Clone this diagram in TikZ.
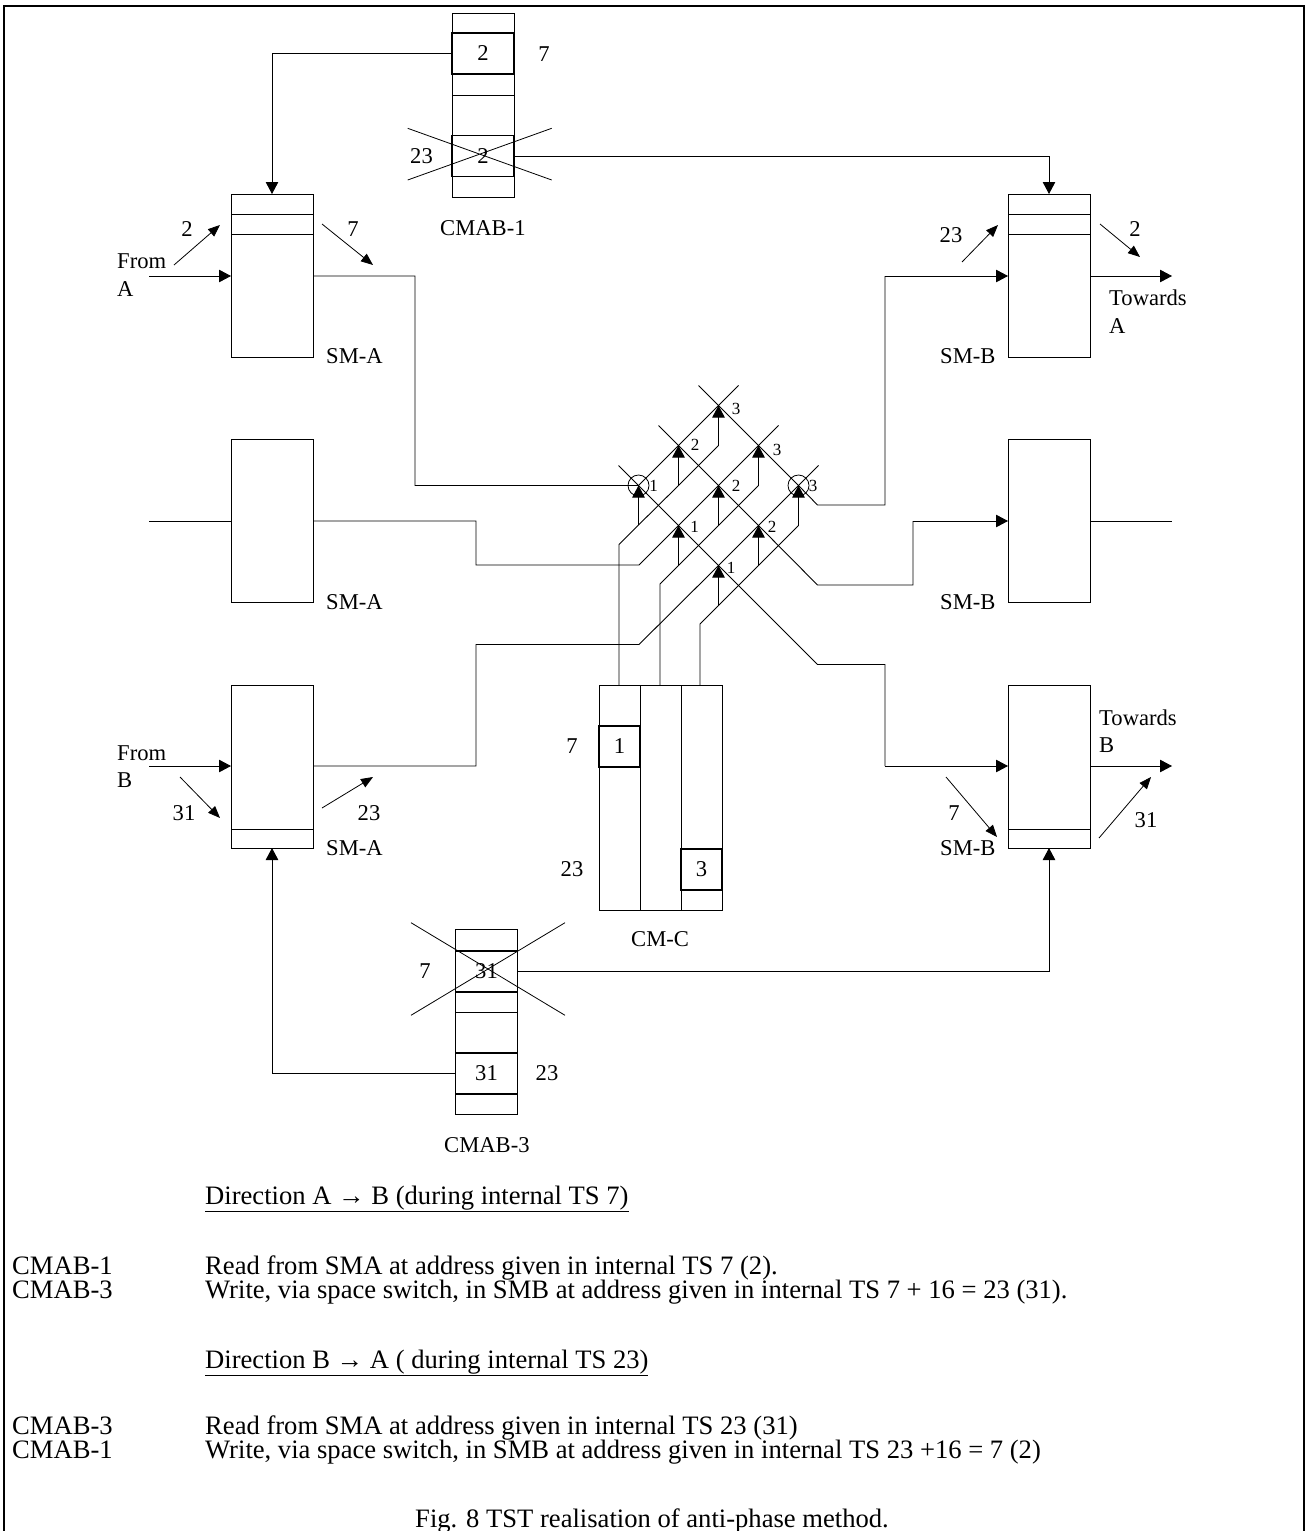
\documentclass[tikz,border=0pt]{standalone}
\usepackage{fontspec}
\setmainfont{Liberation Serif}
\usetikzlibrary{arrows.meta}
\tikzset{
  wire/.style={line width=0.9pt,black},
  arr/.style={wire,-{Triangle[length=12pt,width=12.5pt]}},
  thinarr/.style={line width=0.8pt,black,-{Triangle[length=12pt,width=9.5pt]}},
  cross/.style={line width=0.8pt,black},
  box/.style={draw=black,line width=0.9pt,outer sep=0pt,minimum width=82pt,minimum height=163pt,inner sep=0pt,anchor=north west},
  slot/.style={draw=black,line width=1.6pt,outer sep=0pt,minimum width=62pt,minimum height=41pt,inner sep=0pt,anchor=north west,font=\fontsize{22.6}{25}\selectfont},
  cell/.style={draw=black,line width=1.5pt,outer sep=0pt,minimum width=41pt,minimum height=41pt,inner sep=0pt,anchor=north west,font=\fontsize{22.6}{25}\selectfont},
  strip/.style={draw=black,line width=0.9pt,outer sep=0pt,minimum width=62pt,minimum height=184pt,inner sep=0pt,anchor=north west},
  lab/.style={inner sep=0pt,anchor=base,font=\fontsize{22.6}{25}\selectfont},
  labl/.style={inner sep=0pt,anchor=base west,font=\fontsize{22.6}{25}\selectfont},
  body/.style={inner sep=0pt,anchor=base west,font=\fontsize{26.6}{28}\selectfont},
  small/.style={inner sep=0pt,anchor=base,font=\fontsize{17}{19}\selectfont},
  ring/.style={circle,draw=black,line width=0.8pt,minimum size=21pt,inner sep=0pt},
}
\begin{document}
\begin{tikzpicture}[x=1pt,y=-1pt]
\useasboundingbox (0,0) rectangle (1306,1531);
\fill[white] (0,0) rectangle (1306,1531);
% frame
\coordinate (fbl) at (4,1531); \coordinate (ftl) at (4,6); \coordinate (ftr) at (1304,6); \coordinate (fbr) at (1304,1531);
\draw[line width=2.6pt] (fbl) -- (ftl) -- (ftr) -- (fbr);

% space memories
\node[box] (sma1) at (231,194) {};
\node[box] (sma2) at (231,439) {};
\node[box] (sma3) at (231,685) {};
\node[box] (smb1) at (1008,194) {};
\node[box] (smb2) at (1008,439) {};
\node[box] (smb3) at (1008,685) {};
\draw[wire] (231,214.5) -- (313,214.5) (231,234.5) -- (313,234.5);
\draw[wire] (1008,214.5) -- (1090,214.5) (1008,234.5) -- (1090,234.5);
\draw[wire] (231,829) -- (313,829);
\draw[wire] (1008,829) -- (1090,829);

% CMAB-1
\node[strip] (cm1) at (452,13) {};
\node[slot] (cm1a) at (452,33) {2};
\node[slot] (cm1b) at (452,135.5) {};
\draw[wire] (452,95) -- (514,95);
% CMAB-3
\node[strip,minimum height=185pt] (cm3) at (455.5,929.5) {};
\node[slot] (cm3a) at (455.5,951) {};
\node[slot] (cm3b) at (455.5,1053) {};
\draw[wire] (455.5,1012) -- (517.5,1012);
% CM-C
\node[draw=black,line width=0.9pt,outer sep=0pt,minimum width=123pt,minimum height=225pt,inner sep=0pt,anchor=north west] (cmc) at (599,685) {};
\draw[wire] (640,685) -- (640,910) (681,685) -- (681,910);
\node[cell] (cc1) at (599,726) {1};
\node[cell] (cc3) at (681,849) {3};

% crosses on the memories
\draw[cross] (407.7,128.3) -- (551.7,180) (407.7,180) -- (551.7,128.3);
\draw[cross] (411,922.7) -- (565,1015.3) (411,1015.3) -- (565,922.7);

% control memory connections
\draw[arr] (cm1a.west) -| (sma1.north);
\draw[arr] (cm1b.east) -| (smb1.north);
\draw[arr] (cm3a.east) -| (smb3.south);
\draw[arr] (cm3b.west) -| (sma3.south);

% inputs and outputs
\coordinate (ina) at (149,276); \coordinate (inb) at (149,766); \coordinate (inm) at (149,521);
\coordinate (outa) at (1172,276); \coordinate (outb) at (1172,766); \coordinate (outm) at (1172,521);
\coordinate (a1in) at (231,276); \coordinate (a1out) at (313,276);
\coordinate (a2in) at (231,521); \coordinate (a2out) at (313,521);
\coordinate (a3in) at (231,766); \coordinate (a3out) at (313,766);
\coordinate (b1in) at (1008,276); \coordinate (b1out) at (1090,276);
\coordinate (b2in) at (1008,521); \coordinate (b2out) at (1090,521);
\coordinate (b3in) at (1008,766); \coordinate (b3out) at (1090,766);
\draw[arr] (ina) -- (a1in);
\draw[arr] (inb) -- (a3in);
\draw[wire] (inm) -- (a2in);
\draw[arr] (b1out) -- (outa);
\draw[arr] (b3out) -- (outb);
\draw[wire] (b2out) -- (outm);

% crossbar points
\coordinate (p11) at (638.5,485.5);
\coordinate (p12) at (678.5,445.5);
\coordinate (p13) at (718.5,405.5);
\coordinate (p21) at (678.5,525.5);
\coordinate (p22) at (718.5,485.5);
\coordinate (p23) at (758.5,445.5);
\coordinate (p31) at (718.5,565.5);
\coordinate (p32) at (758.5,525.5);
\coordinate (p33) at (798.5,485.5);
\node[ring] (r1) at (p11) {};
\node[ring] (r3) at (p33) {};

% crossbar wires
\draw[wire] (a1out) -- (415,276) -- (415,485.5) -- (p11) -- (p12) -- (p13) -- (738.5,385.5);
\draw[wire] (a2out) -- (476,521) -- (476,565) -- (639,565) -- (p21) -- (p22) -- (p23) -- (778.5,425.5);
\draw[wire] (a3out) -- (476,766) -- (476,644.5) -- (639,644.5) -- (p31) -- (p32) -- (p33) -- (818.5,465.5);
\draw[wire] (618.5,465.5) -- (p11) -- (p21) -- (p31) -- (817.5,664.5) -- (885,664.5) -- (885,766);
\draw[arr] (885,766) -- (b3in);
\draw[wire] (658.5,425.5) -- (p12) -- (p22) -- (p32) -- (817.5,585) -- (913,585) -- (913,521);
\draw[arr] (913,521) -- (b2in);
\draw[wire] (698.5,385.5) -- (p13) -- (p23) -- (p33) -- (817.5,505) -- (885,505) -- (885,276);
\draw[arr] (885,276) -- (b1in);

% control lines
\draw[wire] (619,685) -- (619,544.5) -- (638.5,525) (638.5,525) -- (678.5,485.5) (678.5,485.5) -- (718.5,445.5);
\draw[arr] (638.5,525) -- (p11);
\draw[arr] (678.5,485.5) -- (p12);
\draw[arr] (718.5,445.5) -- (p13);
\draw[wire] (660,685) -- (660,584) -- (678.5,565.5) -- (718.5,525.5) -- (758.5,485.5);
\draw[arr] (678.5,565.5) -- (p21);
\draw[arr] (718.5,525.5) -- (p22);
\draw[arr] (758.5,485.5) -- (p23);
\draw[wire] (700,685) -- (700,624) -- (718.5,605.5) -- (758.5,565.5) -- (798.5,525.5);
\draw[arr] (718.5,605.5) -- (p31);
\draw[arr] (758.5,565.5) -- (p32);
\draw[arr] (798.5,525.5) -- (p33);

% slanted time-slot arrows
\draw[thinarr] (174,265) -- (220,225);
\draw[thinarr] (322,224) -- (373,265);
\draw[thinarr] (962,262) -- (998,225);
\draw[thinarr] (1100,224) -- (1140,257);
\draw[thinarr] (180,777) -- (220,818);
\draw[thinarr] (322,808) -- (373,777);
\draw[thinarr] (946,777) -- (997,837);
\draw[thinarr] (1099,838) -- (1151,777);

% labels
\node[lab] (l01) at (544,61) {7};
\node[lab] (l02) at (421.5,163) {23};
\node[lab] (l03) at (483,163) {2};
\node[labl] (l04) at (440,235) {CMAB-1};
\node[lab] (l05) at (425,978) {7};
\node[lab] (l06) at (486.5,978) {31};
\node[lab] (l07) at (486.5,1080) {31};
\node[lab] (l08) at (547,1080) {23};
\node[labl] (l09) at (444,1152) {CMAB-3};
\node[labl] (l10) at (117,268) {From};
\node[labl] (l11) at (117,296) {A};
\node[lab] (l12) at (187,236) {2};
\node[lab] (l13) at (353,236) {7};
\node[labl] (l14) at (326,363.5) {SM-A};
\node[labl] (l15) at (326,609) {SM-A};
\node[labl] (l16) at (326,855) {SM-A};
\node[lab] (l17) at (369,820) {23};
\node[lab] (l18) at (184,820) {31};
\node[labl] (l19) at (117,760) {From};
\node[labl] (l20) at (117,787) {B};
\node[labl] (l21) at (940,363.5) {SM-B};
\node[labl] (l22) at (940,609) {SM-B};
\node[labl] (l23) at (940,855) {SM-B};
\node[lab] (l24) at (951,242) {23};
\node[lab] (l25) at (1135,236) {2};
\node[labl] (l26) at (1109,305) {Towards};
\node[labl] (l27) at (1109,333) {A};
\node[labl] (l28) at (1099,725) {Towards};
\node[labl] (l29) at (1099,752) {B};
\node[lab] (l30) at (954,820) {7};
\node[lab] (l31) at (1146,827) {31};
\node[labl] (l32) at (631,946) {CM-C};
\node[lab] (l33) at (572,753) {7};
\node[lab] (l34) at (572,876) {23};

\node[small] (s1) at (736,414) {3};
\node[small] (s2) at (695,450) {2};
\node[small] (s3) at (653.7,491) {1};
\node[small] (s4) at (777,455) {3};
\node[small] (s5) at (736,491) {2};
\node[small] (s6) at (813,491) {3};
\node[small] (s7) at (694.7,532) {1};
\node[small] (s8) at (772,532) {2};
\node[small] (s9) at (731,573) {1};

% text block
\node[body] (t1) at (205,1204) {\underline{Direction A → B (during internal TS 7)}};
\node[body] (t2) at (12,1274) {CMAB-1};
\node[body] (t3) at (205,1274) {Read from SMA at address given in internal TS 7 (2).};
\node[body] (t4) at (12,1298) {CMAB-3};
\node[body] (t5) at (205,1298) {Write, via space switch, in SMB at address given in internal TS 7 + 16 = 23 (31).};
\node[body] (t6) at (205,1368) {\underline{Direction B → A ( during internal TS 23)}};
\node[body] (t7) at (12,1434) {CMAB-3};
\node[body] (t8) at (205,1434) {Read from SMA at address given in internal TS 23 (31)};
\node[body] (t9) at (12,1458) {CMAB-1};
\node[body] (t10) at (205,1458) {Write, via space switch, in SMB at address given in internal TS 23 +16 = 7 (2)};
\node[body,anchor=base] (t11) at (652,1527) {Fig. 8 TST realisation of anti-phase method.};
\end{tikzpicture}
\end{document}
